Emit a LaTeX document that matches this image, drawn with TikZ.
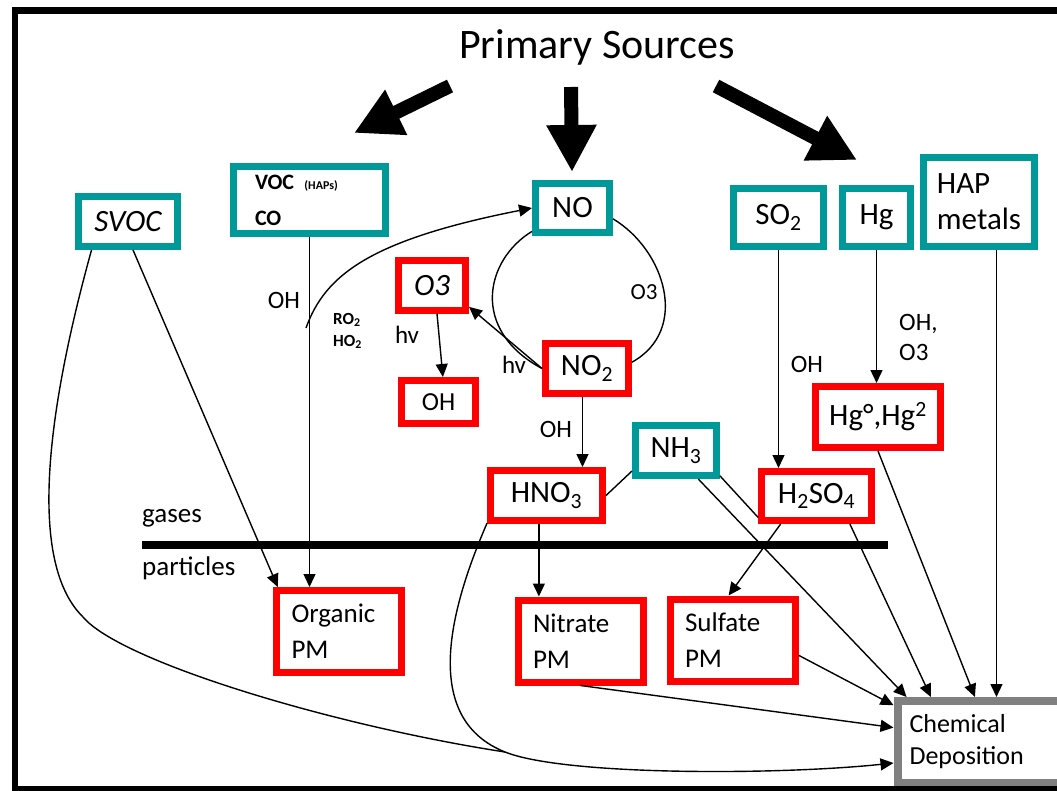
\documentclass[tikz,border=0pt]{standalone}
\usepackage{fontspec}
\setmainfont{Carlito}
\usetikzlibrary{arrows.meta}

\definecolor{boxteal}{RGB}{0,153,153}
\definecolor{boxred}{RGB}{255,0,0}
\definecolor{boxgray}{RGB}{128,128,128}

\tikzset{
  box/.style={line width=7pt, inner sep=0pt, font=\fontsize{31}{36}\selectfont},
  tealbox/.style={box, draw=boxteal},
  redbox/.style={box, draw=boxred},
  pmbox/.style={redbox, minimum height=82pt, text width=95pt, inner xsep=15pt,
    align=left, font=\fontsize{27}{36}\selectfont},
  lbl/.style={inner sep=0pt, font=\fontsize{25}{30}\selectfont},
  plain/.style={line width=1.4pt},
  conn/.style={plain, -{Triangle[length=13pt,width=12pt]}},
  bigarrow/.style={line width=14pt, -{Triangle[length=47pt,width=47pt]}}
}

\begin{document}
\begin{tikzpicture}[x=1pt,y=-1pt]
  \useasboundingbox (0,0) rectangle (1057,791);

  % sources
  \node[inner sep=0pt, font=\fontsize{42}{46}\selectfont] (title) at (597,47) {Primary Sources};
  \draw[bigarrow] (450,86) -- (354,133);
  \draw[bigarrow] (571,87) -- (572,172);
  \draw[bigarrow] (716,86) -- (857,160);

  % gas phase species
  \node[tealbox, minimum width=99pt, minimum height=50pt] (SVOC) at (128,221.5) {\itshape SVOC};
  \node[tealbox, minimum width=152pt, minimum height=67pt, text width=109pt,
    inner xsep=21.5pt, align=left] (VOC) at (309.5,200)
    {\fontsize{22}{29}\selectfont\bfseries VOC {\fontsize{12}{14}\selectfont(HAPs)}\\CO};
  \node[tealbox, minimum width=74pt, minimum height=49pt] (NO) at (572.5,208) {NO};
  \node[redbox, minimum width=67pt, minimum height=50pt] (O3) at (432,285.5) {\itshape O3};
  \node[redbox, minimum width=74pt, minimum height=43pt, font=\fontsize{26}{30}\selectfont] (OH) at (438.5,402) {OH};
  \node[redbox, minimum width=83pt, minimum height=50pt] (NO2) at (587,368.5) {NO\textsubscript{2}};
  \node[tealbox, minimum width=90pt, minimum height=58pt] (SO2) at (778.5,217.5) {SO\textsubscript{2}};
  \node[tealbox, minimum width=68pt, minimum height=58pt] (Hg) at (876.5,217.5) {Hg};
  \node[tealbox, minimum width=111pt, minimum height=89pt, align=left] (HAP) at (979,202) {HAP\\metals};
  \node[tealbox, minimum width=81pt, minimum height=50pt] (NH3) at (676,450.5) {NH\textsubscript{3}};
  \node[redbox, minimum width=112pt, minimum height=50pt] (HNO3) at (546.5,495.5) {HNO\textsubscript{3}};
  \node[redbox, minimum width=110pt, minimum height=49pt] (H2SO4) at (816.5,496) {H\textsubscript{2}SO\textsubscript{4}};
  \node[redbox, minimum width=125pt, minimum height=61pt] (Hgox) at (878,417) {Hg°,Hg\textsuperscript{2}};

  % particles and deposition
  \node[pmbox] (OrgPM) at (339,631.5) {Organic\\PM};
  \node[pmbox] (NitPM) at (580.5,641) {Nitrate\\PM};
  \node[pmbox] (SulPM) at (732.5,640) {Sulfate\\PM};
  \node[box, draw=boxgray, line width=8pt, minimum height=82pt, text width=150pt,
    inner xsep=12pt, align=left, font=\fontsize{26}{32}\selectfont] (Dep) at (984.5,742) {Chemical\\Deposition};

  % gases / particles divide
  \draw[line width=8pt] (142,545) -- (888,545);
  \node[lbl, anchor=base west, font=\fontsize{27}{30}\selectfont] (lgases) at (142,522) {gases};
  \node[lbl, anchor=base west, font=\fontsize{27}{30}\selectfont] (lparticles) at (142,575) {particles};

  % reaction labels
  \node[lbl] (lOH1) at (284,300) {OH};
  \node[lbl, anchor=west, align=left, font=\fontsize{17}{22}\selectfont\bfseries] (lRO2) at (333,331) {RO\textsubscript{2}\\HO\textsubscript{2}};
  \node[lbl] (lhv1) at (407,335) {hv};
  \node[lbl] (lhv2) at (514,365) {hv};
  \node[lbl, font=\fontsize{23}{28}\selectfont] (lO3) at (644,292) {O3};
  \node[lbl] (lOH2) at (556,429) {OH};
  \node[lbl] (lOH3) at (807,364) {OH};
  \node[lbl, anchor=west, align=left] (lOHO3) at (899,337) {OH,\\O3};

  % connectors
  \draw[conn] (SVOC.280) -- (OrgPM.144);
  \draw[conn] (VOC.south) -- (VOC.south |- OrgPM.north);
  \coordinate (ohstart) at (306,328);
  \draw[conn] (ohstart) .. controls (325,275) and (370,240) .. (NO.west);
  \draw[plain] (NO.210) .. controls (485,260) and (470,330) .. (NO2.west);
  \draw[conn] (NO2.west) -- (O3.-30);
  \draw[plain] (NO.-15) .. controls (665,250) and (690,330) .. (NO2.8);
  \draw[conn] (O3.-80) -- (OH.80);
  \draw[conn] (NO2.-99) -- (NO2.-99 |- HNO3.north);
  \draw[plain] (NH3.205) -- (HNO3.east);
  \draw[plain] (NH3.-30) -- (H2SO4.200);
  \draw[conn] (HNO3.-105) -- (HNO3.-105 |- NitPM.north);
  \draw[conn] (SO2.south) -- (SO2.south |- H2SO4.north);
  \draw[conn] (Hg.south) -- (Hg.south |- Hgox.north);
  \draw[conn] (H2SO4.-142) -- (SulPM.95);
  \draw[conn] (NH3.-52) -- (Dep.150);
  \draw[conn] (H2SO4.-40) -- (Dep.140);
  \draw[conn] (Hgox.south) -- (Dep.102);
  \draw[conn] (HAP.-70) -- (HAP.-70 |- Dep.north);
  \draw[conn] (SulPM.-13) -- (Dep.158);
  \draw[conn] (NitPM.south) -- (Dep.171);
  \coordinate (merge) at (505,752);
  \draw[plain] (SVOC.218) .. controls (50,400) and (25,560) .. (83,617)
    .. controls (120,661) and (330,725) .. (merge);
  \draw[conn] (HNO3.205) .. controls (445,620) and (425,720) .. (merge)
    .. controls (565,776) and (780,775) .. (Dep.193);

  % frame
  \draw[line width=6.5pt] (15,10.5) rectangle (1075,789.5);
\end{tikzpicture}
\end{document}
